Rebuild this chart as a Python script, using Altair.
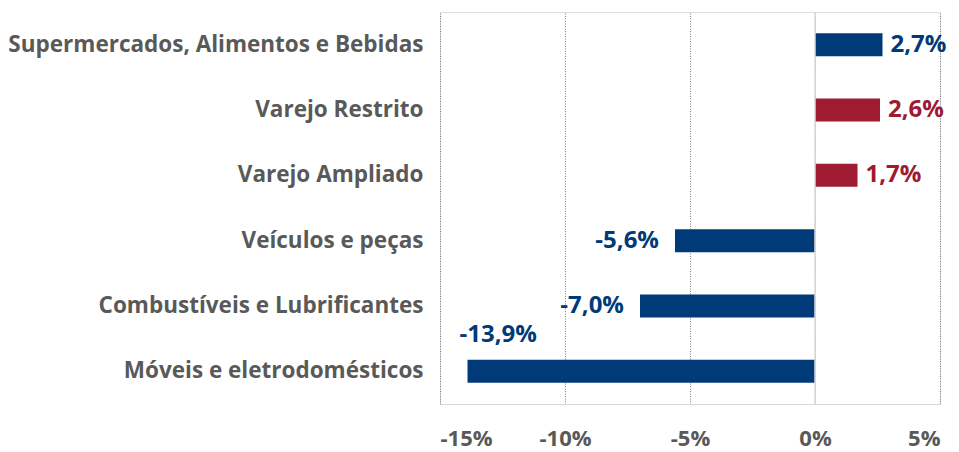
import altair as alt
import pandas as pd

categorias = [
    "Supermercados, Alimentos e Bebidas",
    "Varejo Restrito",
    "Varejo Ampliado",
    "Veículos e peças",
    "Combustíveis e Lubrificantes",
    "Móveis e eletrodomésticos",
]
valores = [2.7, 2.6, 1.7, -5.6, -7.0, -13.9]
grupos = ["Segmento", "Varejo", "Varejo", "Segmento", "Segmento", "Segmento"]
ticks_x = [-15, -10, -5, 0, 5]

df = pd.DataFrame({"cat": categorias, "valor": valores, "grupo": grupos})
df["rotulo"] = df["valor"].map(lambda v: f"{v:.1f}".replace(".", ",") + "%")

FONT = "Open Sans"
GRAY = "#595959"

color = alt.Color(
    "grupo:N",
    scale=alt.Scale(domain=["Segmento", "Varejo"], range=["#003A78", "#9E1B32"]),
    legend=None,
)

y = alt.Y(
    "cat:N",
    sort=categorias,
    title=None,
    scale=alt.Scale(paddingInner=0.64, paddingOuter=0.32),
    axis=alt.Axis(
        domain=False, ticks=False, labelPadding=17,
        labelFont=FONT, labelFontSize=22.5, labelFontWeight="bold", labelColor=GRAY,
        labelLimit=0,
    ),
)

x = alt.X(
    "valor:Q",
    title=None,
    scale=alt.Scale(domain=[-15, 5], nice=False),
    axis=alt.Axis(
        values=ticks_x, labelExpr="datum.value + '%'",
        grid=True, gridColor="#7f7f7f", gridDash=[1, 1.5], gridWidth=1,
        domain=True, domainColor="#d9d9d9", ticks=False, labelPadding=24,
        labelFont=FONT, labelFontSize=22, labelFontWeight="bold", labelColor=GRAY,
    ),
)

base = alt.Chart(df)

bars = base.mark_bar(size=23).encode(x=x, y=y, color=color)

zero = alt.Chart(pd.DataFrame({"z": [0]})).mark_rule(color="#d9d9d9", strokeWidth=1.5).encode(x="z:Q")

txt = dict(font=FONT, fontSize=24, fontWeight="bold", baseline="middle")

pos = base.transform_filter("datum.valor >= 0").mark_text(align="left", dx=8, **txt).encode(
    x="valor:Q", y=alt.Y("cat:N", sort=categorias), text="rotulo:N", color=color
)
neg = base.transform_filter("datum.valor < 0 && datum.valor > -10").mark_text(align="right", dx=-16, **txt).encode(
    x="valor:Q", y=alt.Y("cat:N", sort=categorias), text="rotulo:N", color=color
)
big = base.transform_filter("datum.valor <= -10").mark_text(align="left", dx=-8, dy=-36, **txt).encode(
    x="valor:Q", y=alt.Y("cat:N", sort=categorias), text="rotulo:N", color=color
)

chart = (
    alt.layer(bars, zero, pos, neg, big)
    .properties(
        width=500, height=392,
        autosize=alt.AutoSizeParams(type="none"),
        padding={"left": 432, "top": 4, "right": 11, "bottom": 48},
    )
    .configure_view(stroke=None)
    .configure(background="white")
)

chart.save("out.html", embed_options={"renderer": "svg", "actions": False})
